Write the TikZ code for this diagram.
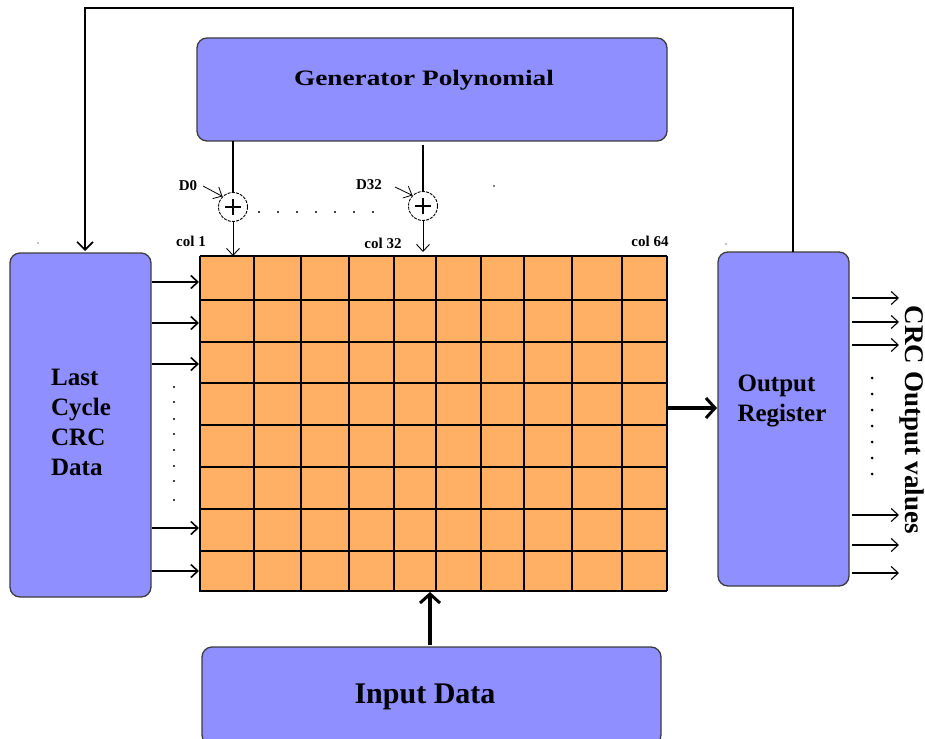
\documentclass[tikz,border=0pt]{standalone}
\usepackage{fontspec}
\setmainfont{Liberation Serif}
\usetikzlibrary{arrows.meta}
\definecolor{boxblue}{RGB}{143,143,255}
\definecolor{cellor}{RGB}{255,176,100}
\definecolor{edgegray}{RGB}{60,60,60}
\begin{document}
\begin{tikzpicture}[x=1pt,y=-1pt,
  bluebox/.style={draw=edgegray,line width=1.3pt,fill=boxblue,rounded corners=10pt},
  lab/.style={font=\bfseries\fontsize{15}{15}\selectfont,inner sep=0pt},
  barb/.style={-{Straight Barb[length=7pt,width=13pt]},line width=0.9pt},
  bigbarb/.style={-{Straight Barb[length=9pt,width=20pt,line width=3pt]},line width=3.6pt},
  dotc/.style={fill=black,circle,inner sep=0pt,minimum size=2.4pt}]
\useasboundingbox (0,0) rectangle (925,738);
% boxes
\draw[bluebox] (197,38) rectangle (667,141);
\node[inner sep=0pt,font=\bfseries\fontsize{22}{22}\selectfont] (gen) at (424,80) {\scalebox{1.24}[1]{Generator Polynomial}};
\draw[bluebox] (10,253) rectangle (151,597);
\node[inner sep=0pt,align=left,font=\bfseries\fontsize{25}{30}\selectfont] (last) at (81,422) {Last\\Cycle\\CRC\\Data};
\draw[bluebox] (718,252) rectangle (849,586);
\node[inner sep=0pt,align=left,font=\bfseries\fontsize{25}{30}\selectfont] (outreg) at (782,401) {Output\\Register};
\draw[bluebox] (202,647) rectangle (661,745);
\node[inner sep=0pt,font=\bfseries\fontsize{30}{30}\selectfont] (inp) at (425,697) {Input Data};
\node[inner sep=0pt,rotate=-90,font=\bfseries\fontsize{27}{27}\selectfont] (crcout) at (912,420) {CRC Output values};
% grid
\fill[cellor] (200,256) rectangle (667,591);
\foreach \x in {254,301,349,394,436,481,524,572,622,667}
  \draw[line width=1.2pt] (\x,256) -- (\x,591);
\foreach \y in {256,300,342,383,425,467,509,551,591}
  \draw[line width=1.2pt] (200,\y) -- (667,\y);
\draw[line width=2.6pt] (200,256) -- (200,592);
\coordinate (gridB) at (430,592);
\coordinate (gridR) at (667,408);
% feedback
\coordinate (fb1) at (793,8);
\coordinate (fb2) at (85,8);
\draw[line width=1.6pt,-{Straight Barb[length=8pt,width=16pt]}] (793,252) -- (fb1) -- (fb2) -- (85,251);
% generator taps
\node[draw,circle,dash pattern=on 3pt off 1.2pt,line width=0.9pt,minimum size=29pt,inner sep=0pt] (x0) at (233,207) {};
\node[draw,circle,dash pattern=on 3pt off 1.2pt,line width=0.9pt,minimum size=29pt,inner sep=0pt] (x32) at (423,206) {};
\draw[line width=1.2pt] (x0.center) +(-8,0) -- +(8,0) (x0.center) +(0,-8) -- +(0,8);
\draw[line width=1.2pt] (x32.center) +(-8,0) -- +(8,0) (x32.center) +(0,-8) -- +(0,8);
\draw[line width=1.1pt] (233,141) -- (x0.north);
\draw[line width=1.1pt] (423,145) -- (x32.north);
\draw[barb] (x0.south) -- (233,256);
\draw[barb] (x32.south) -- (423,252);
\node[lab] (d0) at (188,186) {D0};
\node[lab] (d32) at (369,185) {D32};
\draw[barb,line width=0.8pt] (203,186) -- (x0.north west);
\draw[barb,line width=0.8pt] (395,187) -- (x32.north west);
\foreach \x in {259,278,297,316,335,354,373} \node[dotc] at (\x,212) {};
\node[lab] (c1) at (191,241) {col 1};
\node[lab] (c32) at (383,243) {col 32};
\node[lab] (c64) at (650,241) {col 64};
% left arrows
\foreach \y in {282,323,364,528,571}
  \draw[barb,line width=1.6pt] (152,\y) -- (199,\y);
\foreach \y in {387,402,419,434,450,466,481,500} \node[dotc,minimum size=2.2pt] at (174,\y) {};
% big arrows
\draw[bigbarb] (430,645) -- (gridB);
\draw[bigbarb] (gridR) -- (717,408);
% right output arrows
\foreach \y in {298,322,345,515,545,573}
  \draw[barb,line width=1.1pt] (852,\y) -- (899,\y);
\foreach \y in {378,394,410,426,442,458,474} \node[dotc,minimum size=3pt] at (872,\y) {};
% specks
\fill (494,186) circle (0.8pt);
\fill (38,243) circle (0.7pt);
\fill (726,244) circle (0.7pt);
\end{tikzpicture}
\end{document}
